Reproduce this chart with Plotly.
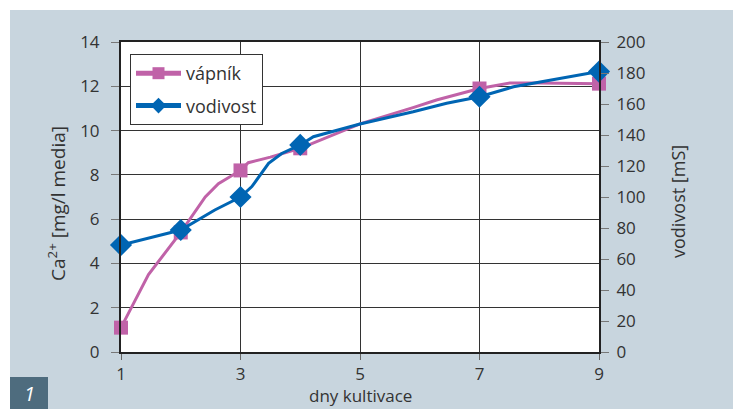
import plotly.graph_objects as go

# ---- data ----
days_ca = [1, 1.46, 2, 2.41, 2.63, 3, 3.13, 3.5, 4, 5, 5.9, 6.28, 7, 7.51, 8, 8.5, 9]
ca = [1.1, 3.5, 5.4, 7.0, 7.6, 8.2, 8.55, 8.8, 9.2, 10.3, 11.05, 11.38, 11.9, 12.15, 12.15, 12.13, 12.12]

days_cond = [1, 1.79, 2, 2.57, 3, 3.19, 3.47, 3.69, 4, 4.22, 5, 5.89, 6.45, 7, 7.57, 9]
cond = [69, 76.6, 78.7, 91.6, 100, 106.7, 121.7, 128.1, 133.6, 138.9, 147.1, 155, 160.5, 164.7, 171.1, 180.9]

measured_days = [1, 2, 3, 4, 7, 9]
x_ticks = [1, 3, 5, 7, 9]

series_names = ["vápník", "vodivost"]
y_title = "Ca<sup>2+</sup> [mg/l media]"
y2_title = "vodivost [mS]"
x_title = "dny kultivace"
fig_label = "1"

PINK = "#c062a8"
BLUE = "#0065b3"
BG = "#c8d5de"
TXT = "#333333"
FONT = "Open Sans"

W, H = 733, 409
L, R, T, B = 121, 599, 42, 352

def px_x(p):
    return (p - L) / (R - L)

def px_y(p):
    return (B - p) / (B - T)

fig = go.Figure()

fig.add_trace(go.Scatter(
    x=days_ca, y=ca, name=series_names[0], mode="lines+markers",
    legendgroup="a", cliponaxis=False,
    line=dict(color=PINK, width=3),
    marker=dict(symbol="square", color=PINK, opacity=1, line=dict(width=0),
                size=[14 if d in measured_days else 0 for d in days_ca]),
))
fig.add_trace(go.Scatter(
    x=days_cond, y=cond, name=series_names[1], mode="lines+markers", yaxis="y2",
    legendgroup="b", cliponaxis=False,
    line=dict(color=BLUE, width=3),
    marker=dict(symbol="diamond", color=BLUE, opacity=1, line=dict(width=0),
                size=[17 if d in measured_days else 0 for d in days_cond]),
))

fig.update_layout(
    width=W, height=H,
    margin=dict(l=L, r=W - R, t=T, b=H - B, pad=0),
    paper_bgcolor=BG, plot_bgcolor="white",
    font=dict(family=FONT, color=TXT, size=17),
    showlegend=True,
    legend=dict(x=px_x(130), y=px_y(54), xanchor="left", yanchor="top",
                bgcolor="white", bordercolor="#333", borderwidth=1,
                font=dict(size=18, family=FONT, color=TXT),
                itemsizing="constant", traceorder="grouped", tracegroupgap=6,
                itemwidth=45),
    xaxis=dict(range=[1, 9], tickvals=x_ticks, showgrid=True, gridcolor="#333",
               gridwidth=1, zeroline=False, showline=True, linecolor="#222",
               linewidth=2, mirror=True, ticks="outside", ticklen=6,
               tickcolor="#666", tickfont=dict(size=17)),
    yaxis=dict(range=[0, 14], dtick=2, showgrid=True, gridcolor="#333",
               gridwidth=1, zeroline=False, showline=True, linecolor="#222",
               linewidth=2, ticks="outside", ticklen=8, tickcolor="#777",
               tickfont=dict(size=17), ticklabelstandoff=8),
    yaxis2=dict(range=[0, 200], dtick=20, overlaying="y", side="right",
                showgrid=False, zeroline=False, showline=True, linecolor="#222",
                linewidth=2, ticks="outside", ticklen=8, tickcolor="#777",
                tickfont=dict(size=17), ticklabelstandoff=4),
    shapes=[
        dict(type="rect", xref="paper", yref="paper", x0=px_x(0), x1=px_x(W),
             y0=px_y(10), y1=px_y(0), fillcolor="white", line=dict(width=0), layer="below"),
        dict(type="rect", xref="paper", yref="paper", x0=px_x(0), x1=px_x(10),
             y0=px_y(H), y1=px_y(0), fillcolor="white", line=dict(width=0), layer="below"),
        dict(type="rect", xref="paper", yref="paper", x0=px_x(10), x1=px_x(48),
             y0=px_y(H), y1=px_y(377), fillcolor="#4e6c7e", line=dict(width=0), layer="below"),
    ],
    annotations=[
        dict(text=y_title, xref="paper", yref="paper", x=px_x(57), y=px_y(204),
             xanchor="center", yanchor="middle",
             textangle=-90, showarrow=False, font=dict(size=19)),
        dict(text=y2_title, xref="paper", yref="paper", x=px_x(678), y=px_y(202),
             xanchor="center", yanchor="middle",
             textangle=-90, showarrow=False, font=dict(size=18)),
        dict(text=x_title, xref="paper", yref="paper", x=px_x(360), y=px_y(395),
             xanchor="center", yanchor="middle",
             showarrow=False, font=dict(size=17)),
        dict(text="<i>" + fig_label + "</i>", xref="paper", yref="paper", x=px_x(29),
             y=px_y(393), xanchor="center", yanchor="middle",
             showarrow=False, font=dict(size=20, color="white")),
    ],
)

fig.write_html("out.html")
